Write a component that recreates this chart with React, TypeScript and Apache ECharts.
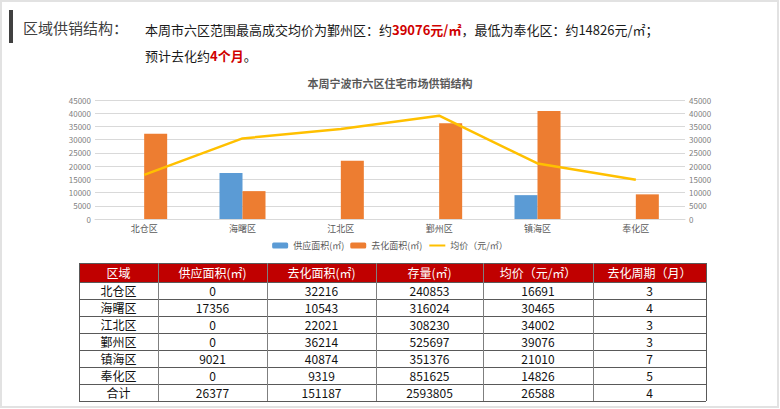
import React, { useEffect, useRef } from "react";
import * as echarts from "echarts";

const regions = ["北仓区", "海曙区", "江北区", "鄞州区", "镇海区", "奉化区"];
const supplyArea = [0, 17356, 0, 0, 9021, 0];
const absorbedArea = [32216, 10543, 22021, 36214, 40874, 9319];
const stock = [240853, 316024, 308230, 525697, 351376, 851625];
const avgPrice = [16691, 30465, 34002, 39076, 21010, 14826];
const cycleMonths = [3, 4, 3, 3, 7, 5];
const totalRow = ["合计", 26377, 151187, 2593805, 26588, 4];
const tableHeaders = ["区域", "供应面积(㎡)", "去化面积(㎡)", "存量(㎡)", "均价（元/㎡）", "去化周期（月）"];
const seriesNames = ["供应面积(㎡)", "去化面积(㎡)", "均价（元/㎡）"];
const axisMax = 45000;
const axisInterval = 5000;
const overallCycle = 4;

const FONT = "'Noto Sans CJK SC', 'Noto Sans', sans-serif";

function buildTable(): any[] {
  const colX = [79, 158, 267, 376, 483, 593, 706];
  const top = 263;
  const headH = 19;
  const rowH = 17;
  const rows: (string | number)[][] = regions.map((r, i) => [
    r,
    supplyArea[i],
    absorbedArea[i],
    stock[i],
    avgPrice[i],
    cycleMonths[i],
  ]);
  rows.push(totalRow);
  const bottom = top + headH + rows.length * rowH;
  const els: any[] = [];
  els.push({
    type: "rect",
    shape: { x: colX[0], y: top, width: colX[6] - colX[0], height: headH },
    style: { fill: "#C00000" },
  });
  tableHeaders.forEach((h, c) => {
    els.push({
      type: "text",
      style: {
        text: h,
        x: (colX[c] + colX[c + 1]) / 2,
        y: top + headH / 2,
        align: "center",
        verticalAlign: "middle",
        fill: "#ffffff",
        fontSize: 12,
        fontFamily: FONT,
      },
    });
  });
  rows.forEach((row, r) => {
    const y = top + headH + r * rowH;
    row.forEach((v, c) => {
      els.push({
        type: "text",
        style: {
          text: String(v),
          x: (colX[c] + colX[c + 1]) / 2,
          y: y + rowH / 2,
          align: "center",
          verticalAlign: "middle",
          fill: "#111111",
          fontSize: 12,
          fontFamily: FONT,
        },
      });
    });
  });
  for (let r = 0; r <= rows.length; r++) {
    const y = Math.round(top + headH + r * rowH) + 0.5;
    els.push({
      type: "line",
      shape: { x1: colX[0], y1: y, x2: colX[6], y2: y },
      style: { stroke: "#595959", lineWidth: 1 },
    });
  }
  els.push({
    type: "line",
    shape: { x1: colX[0], y1: top + 0.5, x2: colX[6], y2: top + 0.5 },
    style: { stroke: "#595959", lineWidth: 1 },
  });
  colX.forEach((x, i) => {
    els.push({
      type: "line",
      shape: { x1: x + 0.5, y1: top, x2: x + 0.5, y2: bottom },
      style: { stroke: i === 0 || i === 6 ? "#595959" : "#7f7f7f", lineWidth: 1 },
    });
  });
  return els;
}

export default function App() {
  const ref = useRef<HTMLDivElement>(null);
  useEffect(() => {
    if (!ref.current) return;
    const chart = echarts.init(ref.current, null, { renderer: "svg" });
    let maxI = 0;
    let minI = 0;
    avgPrice.forEach((p, i) => {
      if (p > avgPrice[maxI]) maxI = i;
      if (p < avgPrice[minI]) minI = i;
    });
    const line1 =
      "本周市六区范围最高成交均价为" +
      regions[maxI] +
      "：约{r|" +
      avgPrice[maxI] +
      "元/㎡}，最低为" +
      regions[minI] +
      "：约" +
      avgPrice[minI] +
      "元/㎡；";
    const line2 = "预计去化约{r|" + overallCycle + "个月}。";
    const richRed = { r: { fill: "#D00000", fontWeight: "bold", fontSize: 13, fontFamily: FONT } };
    const plainNum = (v: number) => String(v);

    chart.setOption({
      animation: false,
      backgroundColor: "#ffffff",
      title: {
        text: "本周宁波市六区住宅市场供销结构",
        left: "center",
        top: 72,
        textStyle: { fontSize: 11, fontWeight: "bold", color: "#595959", fontFamily: FONT },
      },
      legend: {
        data: [
          { name: seriesNames[0] },
          { name: seriesNames[1] },
          { name: seriesNames[2], itemStyle: { opacity: 0 } },
        ],
        top: 236,
        left: "center",
        itemWidth: 16,
        itemHeight: 6,
        itemGap: 6,
        textStyle: { fontSize: 9, color: "#595959", fontFamily: FONT },
      },
      grid: { left: 95, right: 95, top: 100, bottom: 190, containLabel: false },
      xAxis: {
        type: "category",
        data: regions,
        axisTick: { show: false },
        axisLine: { lineStyle: { color: "#d9d9d9" } },
        axisLabel: { fontSize: 9, color: "#595959", margin: 5, fontFamily: FONT },
      },
      yAxis: [
        {
          type: "value",
          min: 0,
          max: axisMax,
          interval: axisInterval,
          axisLine: { show: false },
          axisTick: { show: false },
          splitLine: { lineStyle: { color: "#d9d9d9" } },
          axisLabel: { fontSize: 8, color: "#7f7f7f", margin: 4, fontFamily: FONT, formatter: plainNum },
        },
        {
          type: "value",
          min: 0,
          max: axisMax,
          interval: axisInterval,
          axisLine: { show: false },
          axisTick: { show: false },
          splitLine: { show: false },
          axisLabel: { fontSize: 8, color: "#7f7f7f", margin: 4, fontFamily: FONT, formatter: plainNum },
        },
      ],
      series: [
        {
          name: seriesNames[0],
          type: "bar",
          data: supplyArea,
          barWidth: 23,
          barGap: "0%",
          itemStyle: { color: "#5B9BD5" },
        },
        {
          name: seriesNames[1],
          type: "bar",
          data: absorbedArea,
          barWidth: 23,
          barGap: "0%",
          itemStyle: { color: "#ED7D31" },
        },
        {
          name: seriesNames[2],
          type: "line",
          yAxisIndex: 1,
          data: avgPrice,
          symbol: "none",
          lineStyle: { color: "#FFC000", width: 2.5 },
          itemStyle: { color: "#FFC000" },
        },
      ],
      graphic: [
        {
          type: "rect",
          shape: { x: 1, y: 1, width: 777, height: 406 },
          style: { fill: "none", stroke: "#e2e2e2", lineWidth: 2 },
          silent: true,
        },
        {
          type: "rect",
          shape: { x: 9, y: 10, width: 4, height: 33 },
          style: { fill: "#404040" },
        },
        {
          type: "text",
          style: {
            text: "区域供销结构：",
            x: 23,
            y: 27,
            verticalAlign: "middle",
            fill: "#404040",
            fontSize: 15,
            fontFamily: FONT,
          },
        },
        {
          type: "text",
          style: {
            text: line1,
            x: 145,
            y: 29,
            verticalAlign: "middle",
            fill: "#1a1a1a",
            fontSize: 13,
            fontFamily: FONT,
            rich: richRed,
          },
        },
        {
          type: "text",
          style: {
            text: line2,
            x: 145,
            y: 55,
            verticalAlign: "middle",
            fill: "#1a1a1a",
            fontSize: 13,
            fontFamily: FONT,
            rich: richRed,
          },
        },
        ...buildTable(),
      ],
    });
    return () => chart.dispose();
  }, []);
  return (
    <div
      ref={ref}
      style={{ position: "fixed", left: 0, top: 0, width: 780, height: 409 }}
    />
  );
}
